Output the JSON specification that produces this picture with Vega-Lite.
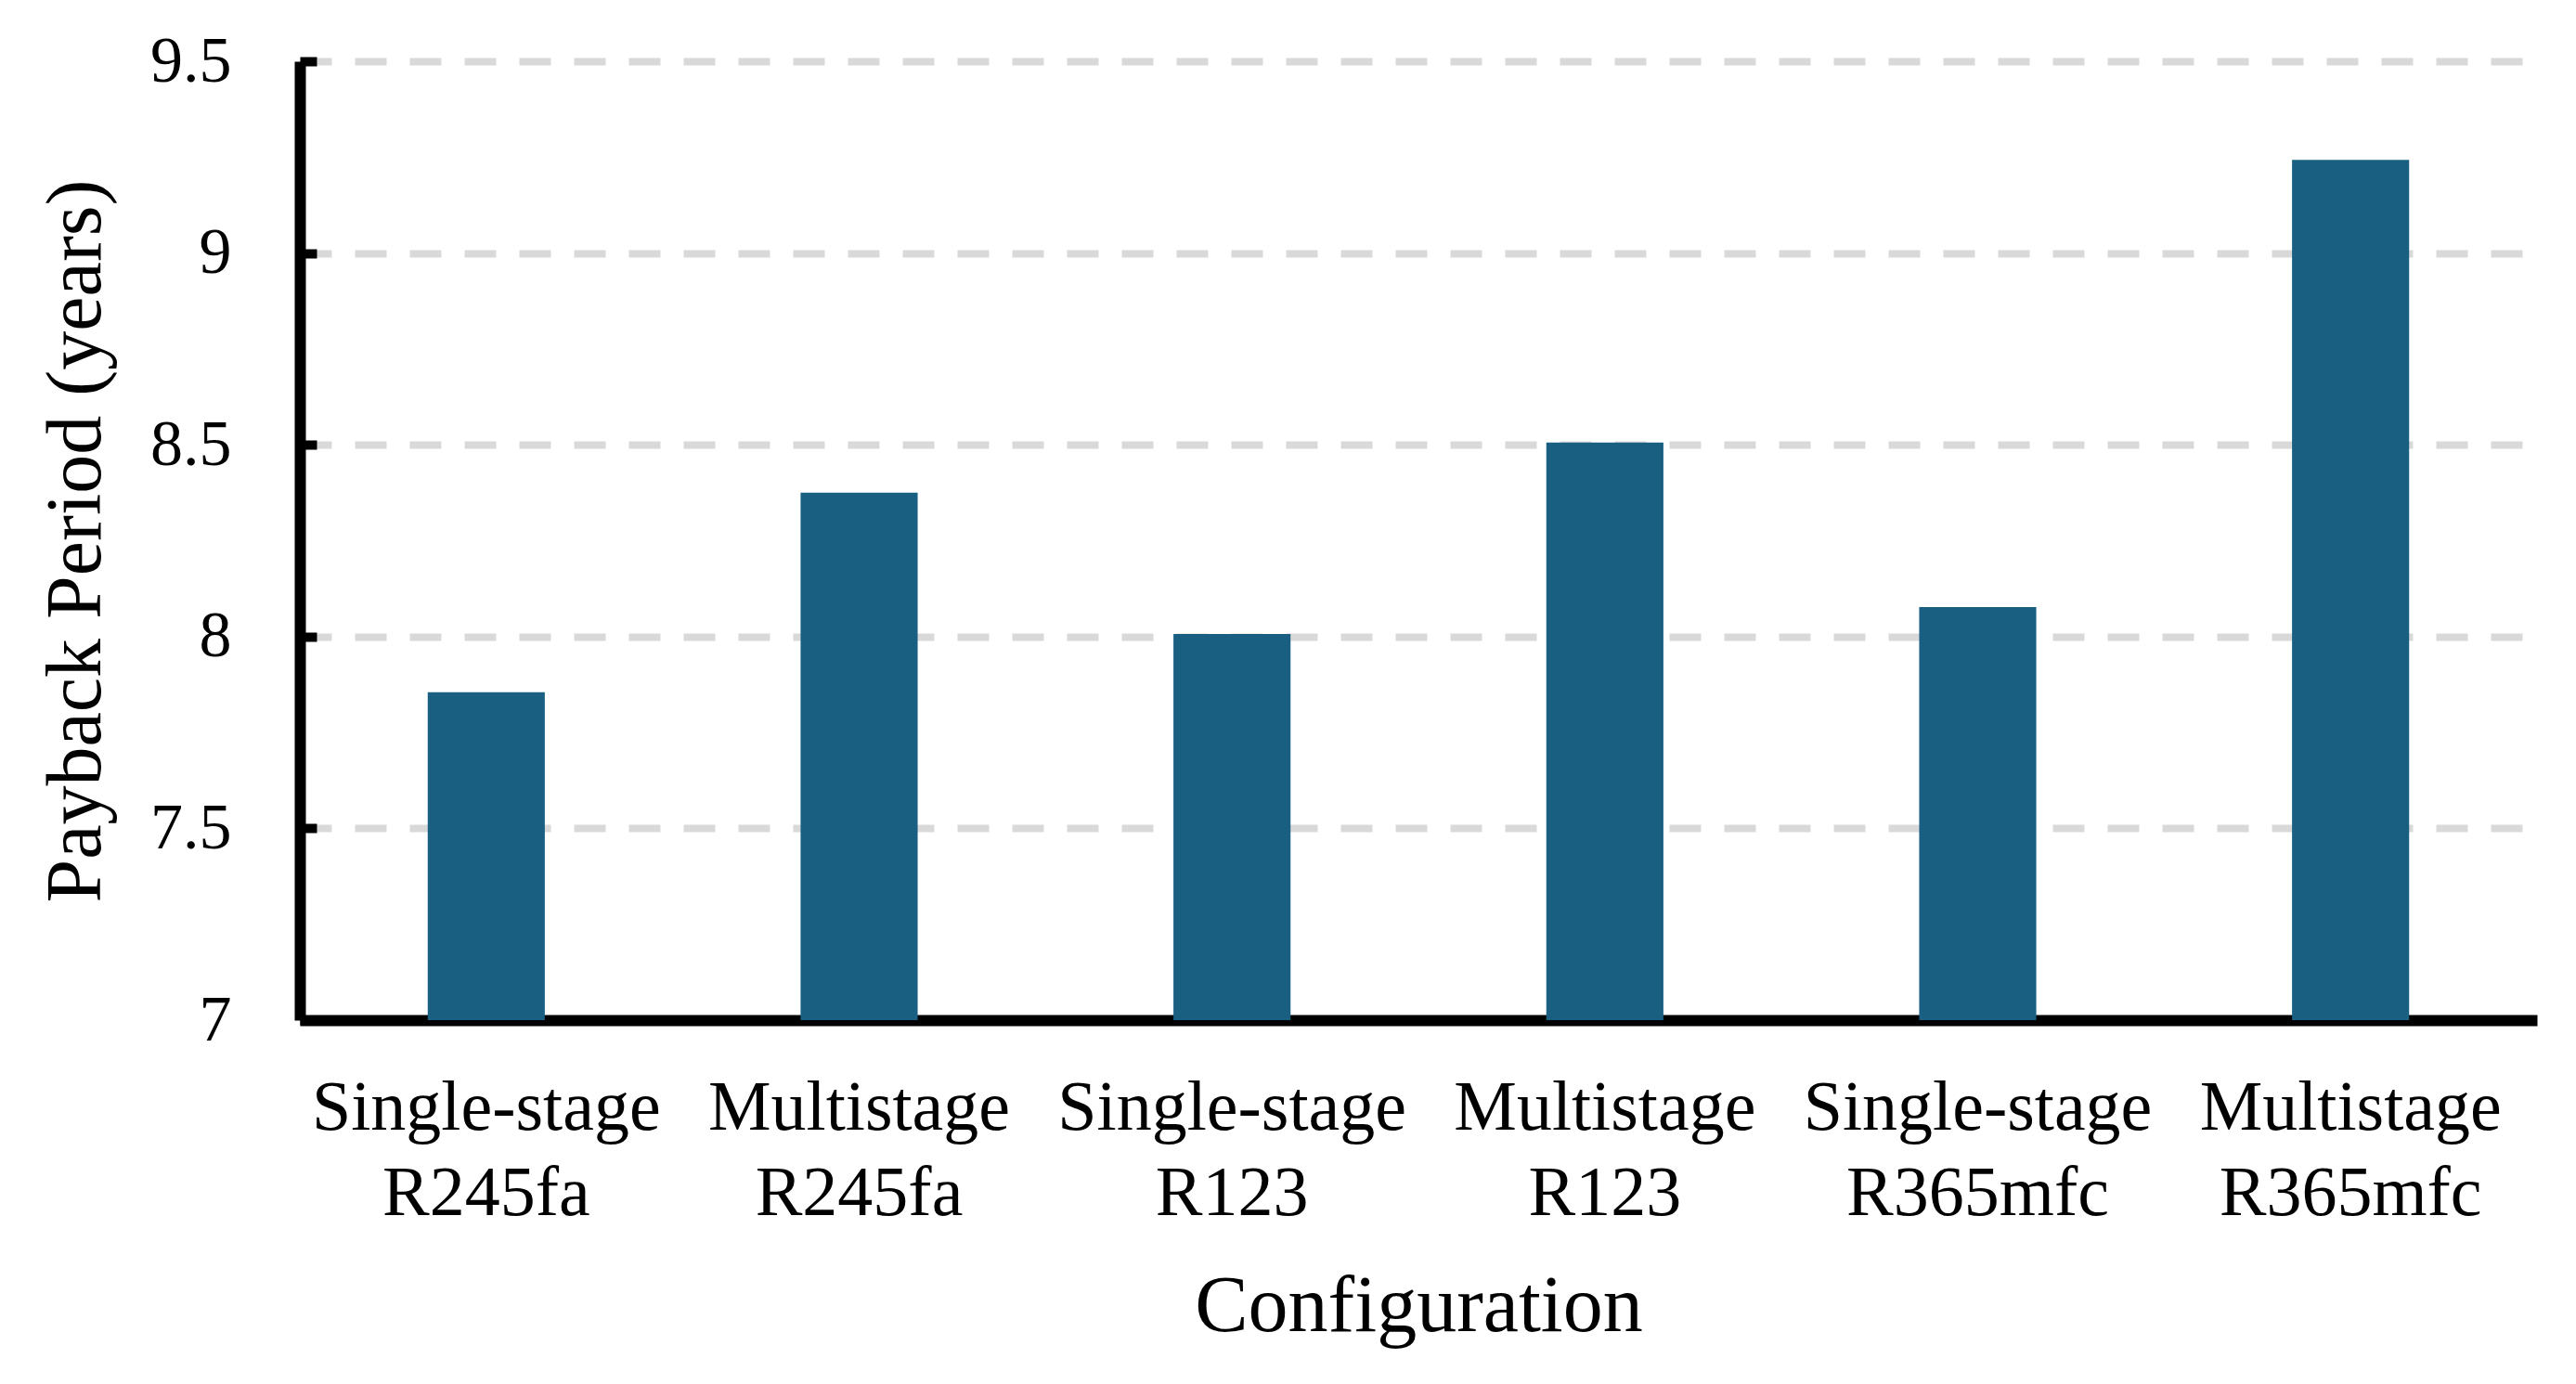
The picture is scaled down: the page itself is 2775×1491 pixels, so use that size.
{
  "$schema": "https://vega.github.io/schema/vega-lite/v6.json",
  "autosize": {"type": "none"},
  "width": 2410,
  "height": 1033,
  "padding": {"left": 323, "top": 66, "right": 42, "bottom": 392},
  "background": "white",
  "data": {
    "values": [
      {"config": "Single-stage R245fa", "payback": 7.855},
      {"config": "Multistage R245fa", "payback": 8.375},
      {"config": "Single-stage R123", "payback": 8.007},
      {"config": "Multistage R123", "payback": 8.506},
      {"config": "Single-stage R365mfc", "payback": 8.077},
      {"config": "Multistage R365mfc", "payback": 9.243}
    ]
  },
  "config": {
    "view": {"stroke": null},
    "font": "Liberation Serif"
  },
  "mark": {"type": "bar", "color": "#185F81", "clip": true},
  "encoding": {
    "x": {
      "field": "config",
      "type": "nominal",
      "sort": null,
      "scale": {"paddingInner": 0.686, "paddingOuter": 0.343},
      "axis": {
        "title": "Configuration",
        "titleFont": "Liberation Serif",
        "titleFontSize": 86,
        "titleFontWeight": "normal",
        "titleColor": "black",
        "titlePadding": 66,
        "labelExpr": "split(datum.label, ' ')",
        "labelFont": "Liberation Serif",
        "labelFontSize": 76,
        "labelColor": "black",
        "labelLineHeight": 92,
        "labelPadding": 57,
        "labelAngle": 0,
        "labelLimit": 0,
        "labelOverlap": false,
        "ticks": false,
        "grid": false,
        "domainColor": "black",
        "domainWidth": 12
      }
    },
    "y": {
      "field": "payback",
      "type": "quantitative",
      "scale": {"domain": [7, 9.5], "nice": false, "zero": false},
      "axis": {
        "title": "Payback Period (years)",
        "titleFont": "Liberation Serif",
        "titleFontSize": 84,
        "titleFontWeight": "normal",
        "titleColor": "black",
        "titlePadding": 36,
        "values": [7, 7.5, 8, 8.5, 9, 9.5],
        "format": "~g",
        "labelFont": "Liberation Serif",
        "labelFontSize": 70,
        "labelColor": "black",
        "labelPadding": 92,
        "tickSize": -18,
        "tickWidth": 10,
        "tickColor": "black",
        "domainColor": "black",
        "domainWidth": 12,
        "gridColor": "#D9D9D9",
        "gridWidth": 8,
        "gridDash": [34, 25]
      }
    }
  }
}
